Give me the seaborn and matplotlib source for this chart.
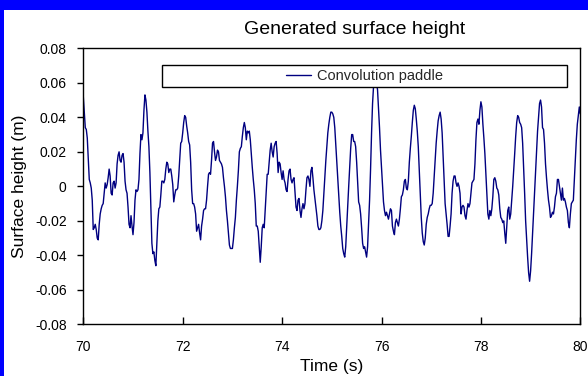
import numpy as np
import pandas as pd
import matplotlib
matplotlib.use("Agg")
import matplotlib.pyplot as plt
from matplotlib.patches import Rectangle
from matplotlib.ticker import FuncFormatter
import seaborn as sns

# Surface elevation (m) sampled every 0.02 s, split into 2-second blocks
eta_70_72 = [
    0.052, 0.043, 0.034, 0.033, 0.028, 0.016, 0.004, 0.002, -0.001, -0.008,
    -0.025, -0.024, -0.022, -0.025, -0.030, -0.031, -0.022, -0.016, -0.013, -0.011,
    -0.010, -0.004, 0.002, -0.001, 0.001, 0.005, 0.010, 0.006, -0.004, -0.005,
    0.002, 0.003, -0.001, 0.002, 0.013, 0.018, 0.020, 0.015, 0.014, 0.018,
    0.019, 0.014, 0.003, -0.002, -0.004, -0.012, -0.022, -0.024, -0.017, -0.023,
    -0.028, -0.021, -0.008, -0.002, -0.003, -0.002, 0.004, 0.019, 0.030, 0.027,
    0.031, 0.044, 0.053, 0.050, 0.043, 0.032, 0.023, 0.008, -0.012, -0.033,
    -0.039, -0.038, -0.043, -0.046, -0.033, -0.020, -0.013, -0.012, -0.005, 0.003,
    0.003, 0.002, 0.004, 0.010, 0.014, 0.013, 0.008, 0.010, 0.010, 0.006,
    0.001, -0.009, -0.005, -0.002, -0.002, -0.001, 0.006, 0.016, 0.025, 0.026,
]
eta_72_74 = [
    0.031, 0.037, 0.041, 0.040, 0.035, 0.031, 0.026, 0.024, 0.014, -0.002,
    -0.010, -0.010, -0.012, -0.016, -0.026, -0.024, -0.022, -0.027, -0.031, -0.023,
    -0.019, -0.014, -0.013, -0.013, -0.008, 0.000, 0.007, 0.008, 0.007, 0.015,
    0.025, 0.026, 0.020, 0.015, 0.017, 0.021, 0.020, 0.015, 0.014, 0.013,
    0.011, 0.005, 0.000, -0.006, -0.014, -0.020, -0.027, -0.034, -0.036, -0.036,
    -0.036, -0.031, -0.024, -0.018, -0.008, 0.000, 0.009, 0.020, 0.022, 0.023,
    0.029, 0.034, 0.037, 0.034, 0.027, 0.032, 0.031, 0.032, 0.027, 0.019,
    0.011, 0.004, -0.002, -0.010, -0.023, -0.023, -0.026, -0.035, -0.044, -0.035,
    -0.024, -0.022, -0.024, -0.014, -0.004, 0.007, 0.007, 0.014, 0.021, 0.025,
    0.020, 0.017, 0.023, 0.025, 0.026, 0.019, 0.008, 0.014, 0.013, 0.008,
]
eta_74_76 = [
    0.004, 0.009, 0.004, 0.002, -0.002, -0.003, 0.004, 0.009, 0.010, 0.004,
    0.002, 0.004, 0.005, -0.004, -0.012, -0.014, -0.008, -0.007, -0.014, -0.018,
    -0.013, -0.010, -0.013, -0.010, -0.002, 0.005, 0.006, 0.004, 0.000, 0.009,
    0.011, 0.005, -0.002, -0.007, -0.012, -0.017, -0.023, -0.025, -0.025, -0.024,
    -0.020, -0.014, -0.004, 0.005, 0.015, 0.023, 0.031, 0.036, 0.040, 0.043,
    0.043, 0.042, 0.040, 0.034, 0.024, 0.014, 0.003, -0.007, -0.015, -0.023,
    -0.029, -0.036, -0.039, -0.041, -0.035, -0.023, -0.011, 0.000, 0.011, 0.022,
    0.030, 0.030, 0.026, 0.026, 0.023, 0.014, 0.002, -0.009, -0.011, -0.016,
    -0.024, -0.033, -0.036, -0.035, -0.038, -0.041, -0.035, -0.022, -0.008, 0.010,
    0.031, 0.048, 0.058, 0.063, 0.063, 0.060, 0.056, 0.045, 0.034, 0.021,
]
eta_76_78 = [
    0.011, 0.002, -0.009, -0.014, -0.017, -0.015, -0.017, -0.019, -0.016, -0.013,
    -0.014, -0.023, -0.026, -0.028, -0.021, -0.019, -0.021, -0.023, -0.019, -0.013,
    -0.006, -0.005, -0.002, 0.003, 0.004, -0.001, -0.002, 0.003, 0.014, 0.022,
    0.029, 0.037, 0.044, 0.047, 0.045, 0.039, 0.032, 0.023, 0.009, -0.004,
    -0.018, -0.027, -0.032, -0.034, -0.030, -0.022, -0.018, -0.016, -0.013, -0.011,
    -0.011, -0.010, -0.004, 0.006, 0.016, 0.025, 0.032, 0.038, 0.041, 0.043,
    0.039, 0.031, 0.017, 0.003, -0.010, -0.016, -0.022, -0.029, -0.029, -0.023,
    -0.016, -0.004, 0.003, 0.006, 0.006, 0.002, 0.000, 0.002, 0.000, -0.004,
    -0.016, -0.012, -0.011, -0.012, -0.017, -0.019, -0.014, -0.010, -0.012, -0.010,
    -0.004, 0.002, 0.003, 0.004, 0.013, 0.027, 0.037, 0.039, 0.036, 0.044,
]
eta_78_80 = [
    0.049, 0.046, 0.036, 0.028, 0.019, 0.007, -0.004, -0.016, -0.019, -0.014,
    -0.017, -0.013, -0.006, 0.004, 0.005, 0.003, -0.001, -0.002, -0.005, -0.013,
    -0.018, -0.019, -0.021, -0.020, -0.027, -0.033, -0.024, -0.014, -0.012, -0.019,
    -0.016, -0.008, 0.000, 0.009, 0.019, 0.029, 0.037, 0.041, 0.040, 0.037,
    0.036, 0.034, 0.025, 0.011, -0.004, -0.020, -0.031, -0.041, -0.050, -0.055,
    -0.049, -0.039, -0.027, -0.016, -0.002, 0.009, 0.021, 0.032, 0.040, 0.048,
    0.050, 0.046, 0.034, 0.033, 0.025, 0.013, 0.005, -0.002, -0.008, -0.012,
    -0.018, -0.017, -0.015, -0.016, -0.012, -0.006, -0.004, 0.004, 0.004, 0.000,
    -0.004, -0.008, -0.001, -0.008, -0.007, -0.009, -0.012, -0.014, -0.021, -0.024,
    -0.016, -0.010, -0.009, -0.008, 0.004, 0.015, 0.027, 0.036, 0.041, 0.046,
    0.042,
]

t_start = 70.0
dt = 0.02
series_name = "Convolution paddle"
x_ticks = [70, 72, 74, 76, 78, 80]
y_ticks = [-0.08, -0.06, -0.04, -0.02, 0.0, 0.02, 0.04, 0.06, 0.08]

eta = eta_70_72 + eta_72_74 + eta_74_76 + eta_76_78 + eta_78_80
time = t_start + dt * np.arange(len(eta))
df = pd.DataFrame({"Time (s)": time, "Surface height (m)": eta, "series": series_name})

sns.set_theme(style="white")
plt.rcParams["font.family"] = ["Liberation Sans", "DejaVu Sans"]

W, H = 588, 376
fig = plt.figure(figsize=(W / 100, H / 100), dpi=100, facecolor="white")

# blue chart frame along the top and left edges
fig.patches.append(Rectangle((0, 1 - 10 / H), 1, 10 / H, transform=fig.transFigure,
                             facecolor="#0000FF", edgecolor="none", zorder=0))
fig.patches.append(Rectangle((0, 0), 4 / W, 1, transform=fig.transFigure,
                             facecolor="#0000FF", edgecolor="none", zorder=0))

ax_l, ax_r, ax_t, ax_b = 83.3, 580.3, 48.3, 324.4
ax = fig.add_axes([ax_l / W, 1 - ax_b / H, (ax_r - ax_l) / W, (ax_b - ax_t) / H])
ax.set_facecolor("white")

sns.lineplot(data=df, x="Time (s)", y="Surface height (m)", color="#000080",
             linewidth=1.0, ax=ax, legend=False, label=series_name)

ax.set_xlim(70, 80)
ax.set_ylim(-0.08, 0.08)
ax.set_xticks(x_ticks)
ax.set_yticks(y_ticks)
ax.xaxis.set_major_formatter(FuncFormatter(lambda v, p: f"{v:.0f}"))
ax.yaxis.set_major_formatter(FuncFormatter(lambda v, p: "0" if abs(v) < 1e-9 else f"{v:.2f}"))
ax.tick_params(axis="x", direction="in", length=5, width=1, color="black",
               labelsize=10, pad=11, labelcolor="black", bottom=True)
ax.tick_params(axis="y", direction="out", length=4, width=1, color="black",
               labelsize=10, pad=8, labelcolor="black", left=True)
for s in ax.spines.values():
    s.set_visible(True)
    s.set_color("black")
    s.set_linewidth(1.0)

ax.set_xlabel("Time (s)", fontsize=12.5, color="black", labelpad=4)
ax.set_ylabel("Surface height (m)", fontsize=12.5, color="black", labelpad=6)

# legend panel across the top of the plot area
lx0, lx1, ly0, ly1 = 161.7, 567.3, 65.0, 86.7
fx = lambda px: (px - ax_l) / (ax_r - ax_l)
fy = lambda py: (ax_b - py) / (ax_b - ax_t)
ax.add_patch(Rectangle((fx(lx0), fy(ly1)), fx(lx1) - fx(lx0), fy(ly0) - fy(ly1),
                       transform=ax.transAxes, facecolor="white", edgecolor="black",
                       linewidth=1.0, zorder=5, clip_on=False))
handles, labels = ax.get_legend_handles_labels()
leg = ax.legend(handles, labels, loc="center",
                bbox_to_anchor=((fx(lx0) + fx(lx1)) / 2, (fy(ly0) + fy(ly1)) / 2),
                frameon=False, fontsize=10.5, handlelength=1.7, handletextpad=0.4,
                borderpad=0, borderaxespad=0)
leg.set_zorder(6)

fig.text(355 / W, 1 - 29 / H, "Generated surface height", ha="center", va="center",
         fontsize=14, color="black")

fig.savefig("out.png", dpi=100, facecolor="white")
